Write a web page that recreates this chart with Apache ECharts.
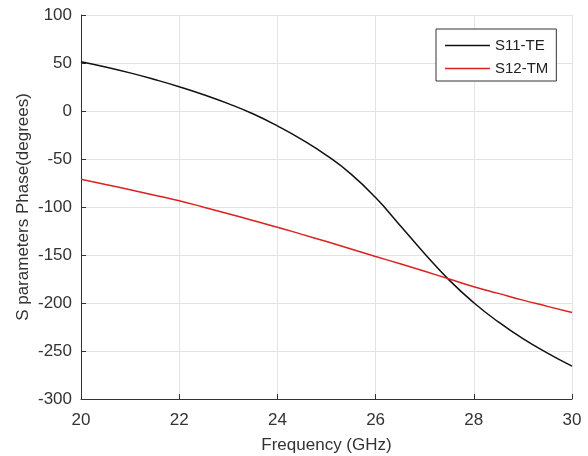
<!DOCTYPE html>
<html>
<head>
<meta charset="utf-8">
<script src="https://cdn.jsdelivr.net/npm/echarts@6/dist/echarts.min.js"></script>
<style>
html,body{margin:0;padding:0;background:#fff;}
#chart{width:588px;height:456px;}
</style>
</head>
<body>
<div id="chart"></div>
<script>
var freq = [20, 20.5, 21, 21.5, 22, 22.5, 23, 23.5, 24, 24.5, 25, 25.5, 26, 26.5, 27, 27.5, 28, 28.5, 29, 29.5, 30];
var s11TE = [51.4, 45.9, 39.7, 32.8, 25.3, 17.0, 7.7, -2.9, -15.5, -29.8, -46.2, -65.7, -90.2, -119.2, -148.7, -176.2, -199.7, -219.7, -237.2, -252.2, -265.7];
var s12TM = [-71, -76.5, -82, -87.7, -93.5, -100.2, -107, -114, -121, -128.5, -136, -143.7, -151.5, -159.2, -167, -175, -183, -190, -197, -203.5, -210];
var xTicks = [20, 22, 24, 26, 28, 30];
var yTicks = [-300, -250, -200, -150, -100, -50, 0, 50, 100];

function pairs(xs, ys){ return xs.map(function(x,i){ return [x, ys[i]]; }); }

var chart = echarts.init(document.getElementById('chart'), null, {renderer:'canvas'});
var font = 'Liberation Sans, Arial, sans-serif';
var axisCol = '#333333';
chart.setOption({
  animation:false,
  backgroundColor:'#ffffff',
  grid:{left:81, top:15, right:16, bottom:57, containLabel:false, outerBoundsMode:'none'},
  legend:{
    left:436, top:29, orient:'vertical',
    padding:[9,8,5,9], itemGap:8, itemWidth:45, itemHeight:14,
    borderColor:'#333333', borderWidth:1, backgroundColor:'#ffffff',
    textStyle:{fontFamily:font, fontSize:15, color:'#222'},
    data:[{name:'S11-TE', icon:'path://M0,0 L45,0 L45,1.3 L0,1.3 Z'},{name:'S12-TM', icon:'path://M0,0 L45,0 L45,1.3 L0,1.3 Z'}]
  },
  xAxis:{
    type:'value', min:xTicks[0], max:xTicks[xTicks.length-1], interval:2,
    name:'Frequency (GHz)', nameLocation:'middle', nameGap:38, nameMoveOverlap:false,
    nameTextStyle:{fontFamily:font, fontSize:17, color:axisCol},
    axisLine:{show:true, onZero:false, lineStyle:{color:'#333', width:1}},
    axisTick:{show:true, inside:true, length:5, lineStyle:{color:'#333'}},
    axisLabel:{fontFamily:font, fontSize:17, color:axisCol, margin:13},
    splitLine:{show:true, lineStyle:{color:'#e3e3e3', width:1}}
  },
  yAxis:{
    type:'value', min:yTicks[0], max:yTicks[yTicks.length-1], interval:50,
    name:'S parameters Phase(degrees)', nameLocation:'middle', nameGap:49, nameMoveOverlap:false,
    nameTextStyle:{fontFamily:font, fontSize:17, color:axisCol},
    axisLine:{show:true, onZero:false, lineStyle:{color:'#333', width:1}},
    axisTick:{show:true, inside:true, length:5, lineStyle:{color:'#333'}},
    axisLabel:{fontFamily:font, fontSize:17, color:axisCol, margin:9},
    splitLine:{show:true, lineStyle:{color:'#e3e3e3', width:1}}
  },
  series:[
    {name:'S11-TE', type:'line', data:pairs(freq, s11TE), smooth:true, symbol:'none',
     lineStyle:{color:'#111111', width:1.5}, itemStyle:{color:'#111111'}},
    {name:'S12-TM', type:'line', data:pairs(freq, s12TM), smooth:true, symbol:'none',
     lineStyle:{color:'#dd2020', width:1.5}, itemStyle:{color:'#dd2020'}}
  ]
});
</script>
</body>
</html>
